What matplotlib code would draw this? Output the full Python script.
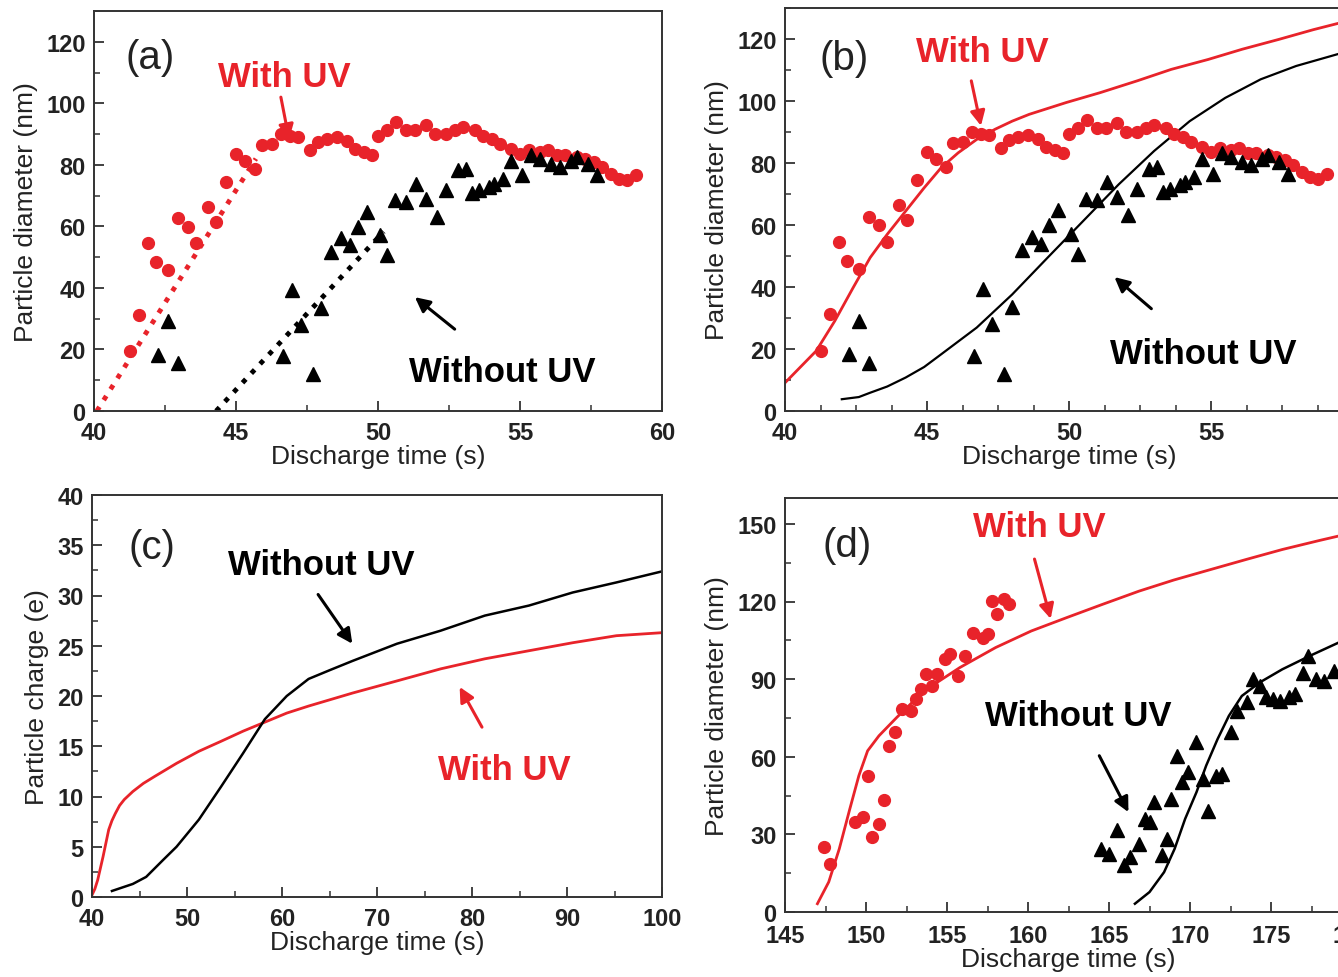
import matplotlib
matplotlib.use("Agg")
import matplotlib.pyplot as plt
from matplotlib.ticker import MultipleLocator

plt.rcParams["font.family"] = ["Liberation Sans", "DejaVu Sans"]

RED = "#e8232a"

# ---- panels (a) and (b): measured particle diameter (nm) vs discharge time (s)
uv_t = [41.28, 41.58, 41.9, 42.2, 42.6, 42.96, 43.3, 43.6, 44.0, 44.3, 44.65, 45.0,
        45.3, 45.66, 45.9, 46.25, 46.6, 46.9, 47.2, 47.6, 47.9, 48.2, 48.55, 48.9,
        49.2, 49.5, 49.8, 50.0, 50.3, 50.65, 50.98, 51.3, 51.7, 52.0, 52.4, 52.7,
        53.0, 53.4, 53.7, 54.0, 54.3, 54.7, 55.0, 55.3, 55.7, 56.0, 56.3, 56.6,
        57.0, 57.3, 57.6, 57.9, 58.2, 58.5, 58.75, 59.1]
uv_d = [19.4, 31.3, 54.5, 48.5, 45.8, 62.6, 59.9, 54.5, 66.3, 61.5, 74.4, 83.6,
        81.4, 78.7, 86.3, 86.8, 90.0, 89.5, 89.0, 84.7, 87.4, 88.5, 89.0, 87.9,
        85.2, 84.1, 83.1, 89.5, 91.2, 93.9, 91.2, 91.2, 92.8, 90.1, 90.1, 91.2,
        92.2, 91.2, 89.5, 88.5, 86.8, 85.2, 83.6, 84.7, 84.1, 84.7, 83.1, 83.1,
        82.5, 82.0, 80.9, 79.3, 77.1, 75.5, 75.0, 76.6]
nouv_t = [42.24, 42.6, 42.96, 46.65, 46.97, 47.3, 47.7, 47.99, 48.36, 48.7, 49.0,
          49.3, 49.6, 50.07, 50.33, 50.6, 50.99, 51.35, 51.7, 52.07, 52.4, 52.8,
          53.1, 53.3, 53.55, 53.9, 54.1, 54.4, 54.7, 55.07, 55.4, 55.7, 56.1,
          56.4, 56.8, 57.0, 57.4, 57.7]
nouv_d = [18.3, 29.1, 15.6, 17.8, 39.4, 28.0, 11.9, 33.4, 51.8, 56.1, 53.9, 59.9,
          64.7, 57.2, 50.7, 68.5, 68.0, 73.9, 69.0, 63.1, 71.7, 78.2, 78.7, 70.7,
          71.7, 72.8, 73.9, 75.5, 81.4, 76.6, 83.1, 82.0, 80.4, 79.3, 81.4, 82.5,
          80.4, 76.6]

# (a) dotted linear fits
fit_uv_t = [40.1, 45.7]
fit_uv_d = [0.0, 82.0]
fit_nouv_t = [44.3, 50.2]
fit_nouv_d = [0.0, 58.3]

# (b) model curves
mod_uv_t = [40.0, 41.1, 41.75, 42.4, 43.0, 43.6, 44.25, 44.9, 45.5, 46.1, 46.75,
            47.4, 48.0, 48.6, 49.9, 51.1, 52.4, 53.6, 54.9, 56.1, 57.4, 58.6, 59.8]
mod_uv_d = [9.1, 19.4, 29.0, 39.8, 49.5, 57.0, 64.5, 72.0, 78.5, 83.3, 87.6,
            90.9, 93.5, 95.7, 99.5, 102.7, 106.5, 110.2, 113.4, 116.7, 119.9, 123.0, 125.8]
mod_nouv_t = [42.0, 42.6, 43.0, 43.6, 44.25, 44.9, 45.5, 46.75, 48.0, 49.25, 50.5,
              51.75, 53.0, 54.25, 55.5, 56.75, 58.0, 59.8]
mod_nouv_d = [3.8, 4.5, 5.9, 7.9, 10.8, 14.2, 18.3, 26.9, 37.6, 49.5, 61.3, 73.1,
              83.9, 93.5, 101.0, 107.0, 111.3, 116.0]

# ---- panel (c): particle charge (e)
chg_uv_t = [40.0, 40.3, 40.6, 41.16, 41.76, 42.1, 42.45, 42.9, 43.4, 44.3, 45.4,
            46.6, 48.9, 51.25, 53.6, 55.9, 58.2, 60.5, 62.8, 67.45, 72.1, 76.7,
            81.35, 85.97, 90.6, 95.2, 100.0]
chg_uv_q = [0.2, 0.8, 1.7, 4.0, 6.7, 7.6, 8.3, 9.1, 9.7, 10.5, 11.3, 12.0, 13.3,
            14.5, 15.5, 16.5, 17.4, 18.3, 19.0, 20.3, 21.5, 22.7, 23.7, 24.5, 25.3,
            26.0, 26.3]
chg_nouv_t = [42.1, 44.3, 45.7, 47.5, 48.9, 51.25, 53.6, 55.9, 58.2, 60.5, 62.8,
              65.1, 67.45, 72.1, 76.7, 81.35, 86.0, 90.6, 95.2, 100.0]
chg_nouv_q = [0.6, 1.3, 2.0, 3.7, 5.0, 7.7, 11.0, 14.3, 17.7, 20.0, 21.7, 22.6,
              23.5, 25.2, 26.5, 28.0, 29.0, 30.3, 31.3, 32.4]

# ---- panel (d): longer discharge
d_uv_t = [147.4, 147.75, 149.3, 149.8, 150.1, 150.4, 150.8, 151.1, 151.4, 151.8,
          152.2, 152.75, 153.1, 153.4, 153.7, 154.1, 154.4, 154.85, 155.2, 155.7,
          156.1, 156.6, 157.2, 157.5, 157.8, 158.1, 158.5, 158.8]
d_uv_d = [25.1, 18.6, 34.7, 36.6, 52.7, 28.9, 34.1, 43.1, 64.3, 69.4, 78.4, 77.8,
          82.3, 86.1, 91.9, 87.4, 91.9, 97.7, 99.6, 91.3, 99.0, 108.0, 106.0,
          107.3, 120.2, 115.0, 120.8, 118.9]
d_nouv_t = [164.5, 165.0, 165.5, 165.9, 166.3, 166.85, 167.2, 167.5, 167.8, 168.3,
            168.6, 168.8, 169.2, 169.5, 169.9, 170.4, 170.8, 171.1, 171.6, 172.0,
            172.5, 172.9, 173.5, 173.9, 174.3, 174.7, 175.1, 175.55, 176.1, 176.5,
            177.0, 177.3, 177.75, 178.3, 178.9]
d_nouv_d = [24.4, 22.5, 31.5, 18.0, 21.2, 26.3, 36.0, 34.7, 42.4, 21.9, 28.3, 43.7,
            60.4, 50.1, 54.0, 65.6, 51.4, 39.2, 52.7, 53.3, 69.4, 77.8, 81.0, 90.0,
            87.4, 82.9, 82.3, 81.6, 82.9, 84.2, 92.5, 99.0, 90.0, 89.3, 93.2]
d_mod_uv_t = [147.0, 147.7, 148.35, 149.0, 149.56, 150.1, 150.8, 151.9, 153.6,
              155.8, 158.0, 160.2, 162.4, 164.6, 166.85, 169.0, 171.3, 173.5,
              175.7, 178.0, 180.0]
d_mod_uv_d = [3.2, 11.6, 24.4, 39.8, 52.7, 62.3, 68.1, 75.2, 85.5, 94.5, 102.2,
              108.6, 113.8, 118.9, 124.0, 128.3, 132.4, 136.3, 140.1, 143.6, 146.5]
d_mod_nouv_t = [166.6, 167.5, 168.4, 169.05, 169.7, 170.4, 171.0, 171.7, 172.4,
                173.2, 174.3, 175.7, 177.4, 180.0]
d_mod_nouv_d = [3.2, 7.7, 15.4, 24.4, 36.0, 46.3, 56.6, 66.8, 75.8, 83.5, 88.7,
                93.8, 99.0, 106.5]

W, H = 1338, 978
fig = plt.figure(figsize=(W / 100, H / 100), dpi=100)


def make_axes(L, R, T, B):
    return fig.add_axes([L / W, 1 - B / H, (R - L) / W, (B - T) / H])


def style(ax, xlim, ylim, xmaj, xmin, ymaj, ymin, ylabel, xpad=7):
    ax.set_xlim(*xlim)
    ax.set_ylim(*ylim)
    ax.xaxis.set_major_locator(MultipleLocator(xmaj))
    ax.xaxis.set_minor_locator(MultipleLocator(xmin))
    ax.yaxis.set_major_locator(MultipleLocator(ymaj))
    ax.yaxis.set_minor_locator(MultipleLocator(ymin))
    ax.tick_params(which="both", direction="in", top=False, right=False,
                   labelsize=17, color="#333333", labelcolor="#222222")
    ax.tick_params(axis="x", pad=xpad)
    ax.tick_params(axis="y", pad=6)
    ax.tick_params(which="major", length=7, width=1.3)
    ax.tick_params(which="minor", length=4, width=1.1)
    for lbl in ax.get_xticklabels() + ax.get_yticklabels():
        lbl.set_fontweight("bold")
    for s in ax.spines.values():
        s.set_linewidth(1.4)
        s.set_color("#333333")
    ax.set_xlabel("Discharge time (s)", fontsize=19, labelpad=0, color="#222222")
    ax.set_ylabel(ylabel, fontsize=19, labelpad=6, color="#222222")


def arrow(ax, tail, head, color):
    ax.annotate("", xy=head, xytext=tail,
                arrowprops=dict(arrowstyle="-|>", color=color, lw=2.2,
                                mutation_scale=22, shrinkA=0, shrinkB=0))


def label(ax, x, y, s, color="black", size=25):
    ax.text(x, y, s, color=color, fontsize=size, fontweight="bold",
            ha="left", va="center")


def panel_tag(ax, x, y, s):
    ax.text(x, y, s, fontsize=29, va="center", color="#222222")


# (a)
ax = make_axes(94, 662, 12, 412)
ax.plot(fit_uv_t, fit_uv_d, ":", color=RED, lw=3.5)
ax.plot(fit_nouv_t, fit_nouv_d, ":", color="black", lw=3.5)
ax.plot(uv_t, uv_d, "o", color=RED, ms=8.5, mec=RED)
ax.plot(nouv_t, nouv_d, "^", color="black", ms=10)
style(ax, (40, 60), (0, 130), 5, 2.5, 20, 10, "Particle diameter (nm)")
panel_tag(ax, 41.1, 115, "(a)")
label(ax, 44.37, 108.8, "With UV", RED)
arrow(ax, (46.58, 102), (46.87, 88.3), RED)
label(ax, 51.1, 12.7, "Without UV")
arrow(ax, (52.7, 26.6), (51.3, 37.0), "black")

# (b)
ax = make_axes(785, 1353, 9, 412)
ax.plot(mod_uv_t, mod_uv_d, "-", color=RED, lw=2)
ax.plot(mod_nouv_t, mod_nouv_d, "-", color="black", lw=1.6)
ax.plot(uv_t, uv_d, "o", color=RED, ms=8.5, mec=RED)
ax.plot(nouv_t, nouv_d, "^", color="black", ms=10)
style(ax, (40, 60), (0, 130), 5, 1.25, 20, 10, "Particle diameter (nm)")
panel_tag(ax, 41.2, 114, "(b)")
label(ax, 44.6, 116, "With UV", RED)
arrow(ax, (46.56, 106.5), (46.9, 92.0), RED)
label(ax, 51.45, 18.4, "Without UV")
arrow(ax, (52.9, 33.0), (51.6, 43.2), "black")

# (c)
ax = make_axes(92, 662, 496, 898)
ax.plot(chg_uv_t, chg_uv_q, "-", color=RED, lw=2)
ax.plot(chg_nouv_t, chg_nouv_q, "-", color="black", lw=1.8)
style(ax, (40, 100), (0, 40), 10, 5, 5, 2.5, "Particle charge (e)")
panel_tag(ax, 43.8, 34.8, "(c)")
label(ax, 54.3, 33.1, "Without UV")
arrow(ax, (63.8, 30.1), (67.4, 25.2), "black")
label(ax, 76.4, 12.7, "With UV", RED)
arrow(ax, (81.05, 16.9), (78.7, 20.9), RED)

# (d)
ax = make_axes(785, 1352, 499, 913)
ax.plot(d_mod_uv_t, d_mod_uv_d, "-", color=RED, lw=2)
ax.plot(d_mod_nouv_t, d_mod_nouv_d, "-", color="black", lw=1.8)
ax.plot(d_uv_t, d_uv_d, "o", color=RED, ms=8.5, mec=RED)
ax.plot(d_nouv_t, d_nouv_d, "^", color="black", ms=10)
style(ax, (145, 180), (0, 160), 5, 2.5, 30, 15, "Particle diameter (nm)", xpad=9)
panel_tag(ax, 147.3, 142, "(d)")
label(ax, 156.6, 149, "With UV", RED)
arrow(ax, (160.4, 136.4), (161.4, 113.3), RED)
label(ax, 157.35, 75.8, "Without UV")
arrow(ax, (164.4, 60.4), (166.2, 38.6), "black")

fig.savefig("out.png", dpi=100)
